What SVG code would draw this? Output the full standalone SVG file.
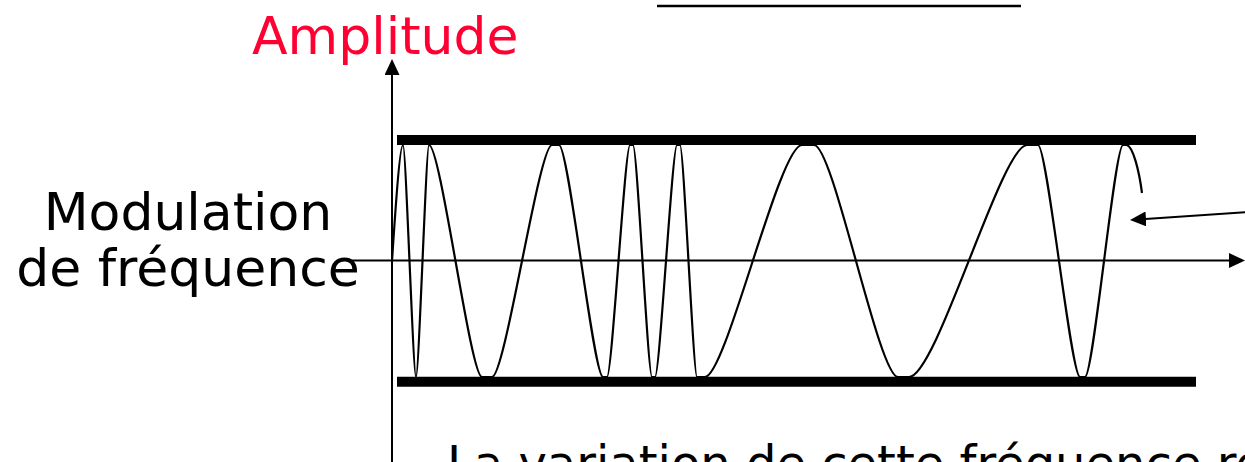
<svg xmlns="http://www.w3.org/2000/svg" width="1245" height="462" viewBox="0 0 1245 462">
<style>
.t{font-family:"DejaVu Sans","Liberation Sans",sans-serif;font-size:52px;fill:#000}
.ax{stroke:#000;stroke-width:2;fill:none}
.bar{stroke:#000;stroke-width:10;fill:none}
.wave{stroke:#000;stroke-width:2.2;fill:none;stroke-linejoin:round}
</style>
<defs>
<marker id="ah" markerUnits="userSpaceOnUse" markerWidth="16" markerHeight="15" refX="8" refY="7.5" orient="auto">
<path d="M0,0 L16,7.5 L0,15 z" fill="#000"/>
</marker>
</defs>
<rect width="1245" height="462" fill="#fff"/>
<g id="top-line"><line x1="657" y1="6" x2="1021" y2="6" stroke="#000" stroke-width="2.5"/></g>
<g id="amplitude-label"><text class="t" x="252" y="54" style="fill:#FF0033">Amplitude</text></g>
<g id="fm-label">
<text class="t" x="188" y="230" text-anchor="middle">Modulation</text>
<text class="t" x="188" y="286" text-anchor="middle">de fréquence</text>
</g>
<g id="bottom-label"><text class="t" x="447" y="480" style="font-size:48px">La variation de cette fréquence re</text></g>
<g id="bars">
<line class="bar" x1="397" y1="140" x2="1196" y2="140"/>
<line class="bar" x1="397" y1="381.7" x2="1196" y2="381.7"/>
</g>
<g id="wave">
<path class="wave" d="M392,261 C396,200 400,145 403,145
C405.9,145 413.1,377 416,377
C418.9,377 426.1,145 429,145
C440.7,145 470.3,377 482,377 L492,377
C505.2,377 538.8,145 552,145 L559,145
C568.7,145 593.3,377 603,377 L607,377
C612.1,377 624.9,145 630,145 L633,145
C637.2,145 647.8,377 652,377 L655,377
C659.8,377 672.2,145 677,145 L680,145
C683.7,145 693.3,377 697,377 L705,377
C725.9,377 779.1,145 802,145 L814,145
C833.6,145 878.4,377 898,377 L909,377
C936.5,377 1001.5,145 1027,145 L1038,145
C1047.2,145 1070.8,377 1080,377 L1085,377
C1093.4,377 1114.6,145 1123,145 L1127,145
C1133,147 1139,170 1142,193"/>
</g>
<g id="connectors">
<line class="ax" x1="392" y1="462" x2="392" y2="67" marker-end="url(#ah)"/>
<line class="ax" x1="347" y1="260.5" x2="1237" y2="260.5" marker-end="url(#ah)"/>
<line class="ax" x1="1247" y1="212" x2="1138" y2="219.5" marker-end="url(#ah)"/>
</g>
</svg>
